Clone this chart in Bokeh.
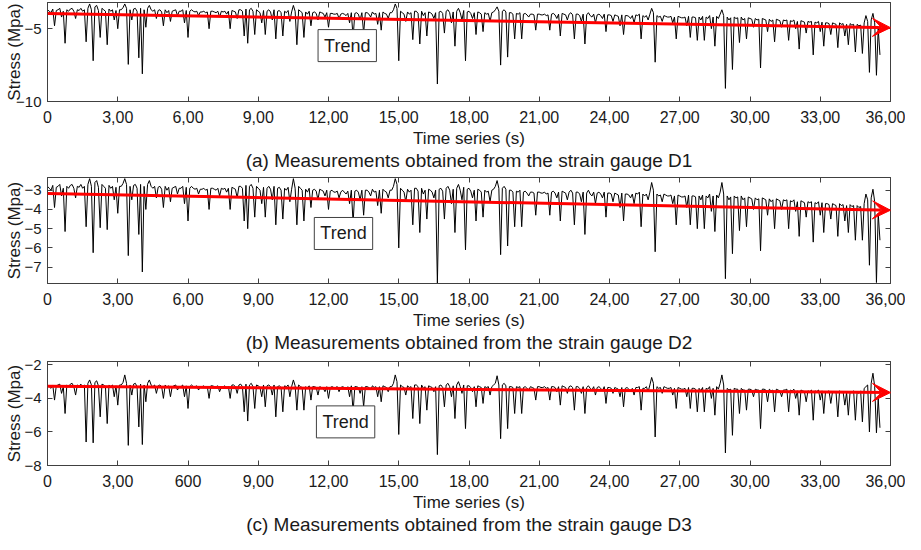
import numpy as np
from bokeh.plotting import figure
from bokeh.layouts import column
from bokeh.models import (FixedTicker, LinearAxis, Label, Arrow, VeeHead, Range1d)
from bokeh.embed import file_html
from bokeh.resources import INLINE

d1_stress = [
    -3.7, -3.8, -3.9, -3.65, -4.8, -3.75, -3.7, -3.6, -4.2, -3.8, -6.0, -3.7, -3.8, -3.65, -3.6, -3.8, -4.3, -3.7, -3.75, -3.6,
    -3.8, -3.7, -5.9, -3.6, -3.3, -3.7, -7.2, -3.5, -3.4, -3.75, -5.6, -3.6, -3.7, -3.8, -6.1, -3.65, -3.8, -3.7, -4.4, -3.75,
    -5.0, -3.7, -3.7, -3.55, -3.3, -3.6, -7.45, -3.7, -4.4, -3.65, -3.6, -3.8, -7.0, -3.6, -8.1, -3.7, -4.9, -3.6, -3.4, -3.7,
    -3.8, -3.7, -4.3, -3.75, -3.7, -3.85, -4.8, -3.7, -3.9, -3.75, -4.5, -3.8, -3.75, -3.7, -4.1, -3.8, -3.8, -3.7, -4.6, -3.75,
    -5.6, -3.8, -3.7, -3.8, -3.85, -3.8, -4.1, -3.85, -3.85, -3.8, -3.9, -3.85, -5.0, -3.8, -3.8, -3.85, -3.9, -3.8, -4.2, -3.8,
    -3.85, -3.8, -4.0, -3.8, -5.0, -3.75, -3.8, -3.85, -4.3, -3.7, -3.7, -3.8, -5.5, -3.65, -6.0, -3.7, -3.6, -3.8, -5.4, -3.7,
    -3.8, -3.9, -4.6, -3.75, -5.4, -3.8, -3.7, -3.85, -4.4, -3.7, -5.7, -3.8, -3.75, -3.9, -5.5, -3.8, -3.9, -3.75, -4.5, -3.85,
    -3.4, -3.8, -6.1, -3.7, -3.8, -3.9, -5.6, -3.85, -4.0, -3.8, -4.8, -3.9, -3.85, -3.95, -4.4, -3.85, -3.9, -3.95, -4.2, -3.9,
    -4.9, -3.95, -3.95, -4.0, -4.0, -3.95, -4.3, -4.0, -3.95, -4.0, -4.1, -3.95, -4.6, -3.9, -5.6, -3.95, -3.9, -4.0, -4.4, -3.9,
    -5.3, -3.9, -3.9, -4.0, -4.2, -3.85, -4.0, -3.95, -4.7, -3.9, -5.1, -3.85, -3.95, -4.0, -4.3, -3.9, -3.9, -3.7, -3.3, -3.6,
    -7.2, -3.8, -3.9, -4.0, -4.5, -3.85, -4.0, -3.9, -5.75, -3.8, -3.8, -3.95, -6.05, -3.8, -4.1, -3.9, -5.5, -3.85, -3.9, -4.0,
    -4.3, -3.9, -8.8, -3.85, -3.8, -3.95, -5.3, -3.8, -3.7, -3.9, -4.6, -3.85, -6.2, -3.8, -3.6, -3.9, -4.4, -3.75, -7.2, -3.85,
    -3.8, -3.95, -4.3, -3.9, -5.4, -3.85, -3.9, -4.0, -5.2, -3.9, -4.0, -3.95, -4.5, -3.9, -3.85, -3.7, -3.5, -3.8, -7.5, -3.8,
    -3.7, -3.85, -6.95, -3.9, -3.9, -4.0, -5.7, -3.95, -4.0, -3.9, -5.7, -4.0, -3.95, -4.05, -4.2, -4.0, -4.0, -4.05, -5.1, -4.0,
    -4.0, -4.05, -4.05, -4.0, -4.1, -4.05, -5.1, -4.0, -3.95, -4.05, -4.3, -4.0, -5.5, -3.95, -4.0, -4.05, -4.4, -4.0, -3.9, -4.05,
    -5.7, -4.0, -4.0, -4.1, -4.5, -4.0, -6.05, -4.05, -3.9, -4.1, -4.2, -4.0, -4.6, -4.05, -4.0, -4.1, -4.3, -4.0, -5.2, -4.05,
    -4.05, -4.1, -4.5, -4.05, -4.1, -4.15, -4.8, -4.05, -5.4, -4.1, -4.1, -4.15, -4.3, -4.1, -4.6, -4.05, -4.1, -4.0, -5.7, -4.1,
    -4.2, -4.1, -4.4, -4.0, -3.6, -3.9, -7.3, -4.1, -4.2, -4.15, -4.5, -4.1, -4.15, -4.2, -4.2, -4.15, -4.6, -4.2, -5.7, -4.15,
    -4.2, -4.25, -4.25, -4.2, -4.8, -4.15, -5.6, -4.2, -4.2, -4.25, -5.8, -4.2, -4.4, -4.15, -5.8, -4.2, -4.3, -4.1, -5.0, -4.2,
    -6.2, -4.15, -4.3, -4.0, -3.7, -4.1, -9.1, -4.2, -4.4, -4.25, -7.8, -4.2, -4.3, -4.25, -5.95, -4.2, -4.4, -4.3, -5.7, -4.25,
    -4.3, -4.35, -4.9, -4.3, -4.4, -4.35, -7.7, -4.3, -4.35, -4.4, -5.2, -4.35, -4.5, -4.4, -5.9, -4.35, -4.4, -4.45, -4.9, -4.4,
    -4.45, -4.4, -5.8, -4.45, -4.5, -4.4, -5.0, -4.5, -6.4, -4.45, -4.5, -4.55, -5.3, -4.5, -4.55, -4.5, -6.8, -4.55, -4.6, -4.5,
    -5.2, -4.55, -6.2, -4.6, -4.6, -4.65, -5.4, -4.6, -4.65, -4.7, -6.3, -4.6, -4.7, -4.65, -5.5, -4.7, -6.1, -4.65, -4.75, -4.7,
    -6.6, -4.7, -4.8, -4.75, -6.7, -4.6, -4.1, -4.5, -8.0, -4.4, -3.95, -4.6, -8.2, -5.0, -6.8,
]
d2_stress = [
    -2.8, -2.9, -3.0, -2.75, -3.9, -2.85, -2.8, -2.7, -3.3, -2.9, -5.15, -2.8, -2.9, -2.75, -2.7, -2.9, -3.4, -2.8, -2.85, -2.7,
    -2.9, -2.8, -4.9, -2.7, -2.4, -2.8, -6.25, -2.6, -2.5, -2.85, -4.95, -2.7, -2.8, -2.9, -5.05, -2.75, -2.9, -2.8, -3.5, -2.85,
    -4.2, -2.8, -2.8, -2.65, -2.4, -2.7, -6.4, -2.8, -3.5, -2.75, -2.7, -2.9, -5.3, -2.7, -7.25, -2.8, -4.0, -2.7, -2.5, -2.8,
    -2.9, -2.8, -3.4, -2.85, -2.8, -2.95, -3.9, -2.8, -3.0, -2.85, -3.6, -2.9, -2.85, -2.8, -3.2, -2.9, -2.9, -2.8, -3.7, -2.85,
    -4.6, -2.9, -2.8, -2.9, -2.95, -2.9, -3.2, -2.95, -2.95, -2.9, -3.0, -2.95, -4.0, -2.9, -2.9, -2.95, -3.0, -2.9, -3.3, -2.9,
    -2.95, -2.9, -3.1, -2.9, -4.0, -2.85, -2.9, -2.95, -3.4, -2.8, -2.8, -2.9, -4.6, -2.75, -5.0, -2.8, -2.7, -2.9, -4.4, -2.8,
    -2.9, -3.0, -3.7, -2.85, -4.4, -2.9, -2.8, -2.95, -3.5, -2.8, -4.8, -2.9, -2.85, -3.0, -4.5, -2.9, -3.0, -2.85, -3.6, -2.95,
    -2.4, -2.9, -4.8, -2.8, -2.9, -3.0, -4.6, -2.95, -3.1, -2.9, -3.9, -3.0, -2.95, -3.05, -3.5, -2.95, -3.0, -3.05, -3.3, -3.0,
    -4.0, -3.05, -3.0, -3.1, -3.1, -3.05, -3.4, -3.1, -3.0, -3.1, -3.2, -3.05, -3.7, -3.0, -4.7, -3.05, -3.0, -3.1, -3.5, -3.0,
    -4.3, -3.0, -3.0, -3.1, -3.3, -2.95, -3.1, -3.05, -3.8, -3.0, -4.2, -2.95, -3.05, -3.1, -3.4, -3.0, -3.0, -2.8, -2.4, -2.7,
    -6.0, -2.9, -3.0, -3.1, -3.6, -2.95, -3.1, -3.0, -4.8, -2.9, -2.9, -3.05, -5.2, -2.9, -3.2, -3.0, -4.5, -2.95, -3.0, -3.1,
    -3.4, -3.0, -7.85, -2.95, -2.9, -3.05, -4.5, -2.9, -2.8, -3.0, -3.7, -2.95, -5.2, -2.9, -2.7, -3.0, -3.5, -2.85, -6.1, -2.95,
    -2.9, -3.05, -3.4, -3.0, -4.6, -2.95, -3.0, -3.1, -4.4, -3.0, -3.1, -3.05, -3.6, -3.0, -2.95, -2.8, -2.5, -2.9, -6.35, -2.9,
    -2.8, -2.95, -5.9, -3.0, -3.0, -3.1, -4.9, -3.05, -3.1, -3.0, -4.9, -3.1, -3.05, -3.15, -3.3, -3.1, -3.1, -3.15, -4.3, -3.1,
    -3.1, -3.15, -3.15, -3.1, -3.2, -3.15, -4.3, -3.1, -3.05, -3.15, -3.4, -3.1, -4.6, -3.05, -3.1, -3.15, -3.5, -3.1, -3.0, -3.15,
    -4.8, -3.1, -3.1, -3.2, -3.6, -3.1, -5.3, -3.15, -3.0, -3.2, -3.3, -3.1, -3.7, -3.15, -3.1, -3.2, -3.4, -3.1, -4.4, -3.15,
    -3.15, -3.2, -3.6, -3.15, -3.2, -3.25, -3.9, -3.15, -4.6, -3.2, -3.2, -3.25, -3.4, -3.2, -3.7, -3.15, -3.2, -3.1, -4.9, -3.2,
    -3.3, -3.2, -3.5, -3.1, -2.6, -3.0, -6.2, -3.2, -3.3, -3.25, -3.6, -3.2, -3.25, -3.3, -3.3, -3.25, -3.7, -3.3, -4.8, -3.25,
    -3.3, -3.35, -3.35, -3.3, -3.9, -3.25, -4.8, -3.3, -3.3, -3.35, -5.0, -3.3, -3.5, -3.25, -5.0, -3.3, -3.4, -3.2, -4.1, -3.3,
    -5.15, -3.25, -3.4, -3.1, -2.6, -3.2, -7.6, -3.3, -3.5, -3.35, -6.3, -3.3, -3.4, -3.35, -5.1, -3.3, -3.5, -3.4, -4.9, -3.35,
    -3.4, -3.45, -4.0, -3.4, -3.5, -3.45, -6.15, -3.4, -3.45, -3.5, -4.3, -3.45, -3.6, -3.5, -5.0, -3.45, -3.5, -3.55, -4.0, -3.5,
    -3.55, -3.5, -5.0, -3.55, -3.6, -3.5, -4.1, -3.6, -5.4, -3.55, -3.6, -3.65, -4.4, -3.6, -3.65, -3.6, -5.7, -3.65, -3.7, -3.6,
    -4.3, -3.65, -5.2, -3.7, -3.7, -3.75, -4.5, -3.7, -3.75, -3.8, -5.4, -3.7, -3.8, -3.75, -4.6, -3.8, -5.2, -3.75, -3.85, -3.8,
    -5.6, -3.8, -3.9, -3.85, -5.6, -3.7, -3.2, -3.5, -6.9, -3.4, -2.95, -3.6, -7.8, -4.2, -5.6,
]
d3_stress = [
    -3.2, -3.3, -3.4, -3.2, -4.1, -3.25, -3.2, -3.15, -3.7, -3.3, -4.9, -3.2, -3.3, -3.15, -3.1, -3.3, -3.8, -3.2, -3.25, -3.15,
    -3.3, -3.2, -6.6, -3.1, -2.9, -3.2, -6.65, -3.05, -2.95, -3.25, -5.1, -3.15, -3.2, -3.3, -5.5, -3.2, -3.3, -3.2, -3.9, -3.25,
    -4.4, -3.2, -3.2, -3.05, -2.6, -3.1, -6.8, -3.2, -3.8, -3.15, -3.1, -3.3, -5.7, -3.15, -6.75, -3.2, -4.2, -3.1, -2.9, -3.2,
    -3.3, -3.2, -3.7, -3.25, -3.2, -3.3, -4.0, -3.2, -3.35, -3.25, -3.9, -3.3, -3.25, -3.2, -3.5, -3.3, -3.3, -3.2, -3.9, -3.25,
    -4.6, -3.3, -3.2, -3.3, -3.3, -3.25, -3.5, -3.3, -3.3, -3.25, -3.35, -3.3, -4.0, -3.25, -3.25, -3.3, -3.3, -3.25, -3.6, -3.3,
    -3.3, -3.25, -3.4, -3.3, -4.0, -3.2, -3.2, -3.3, -3.7, -3.2, -3.15, -3.3, -4.8, -3.15, -5.35, -3.2, -3.1, -3.3, -4.6, -3.2,
    -3.25, -3.35, -3.9, -3.2, -4.5, -3.25, -3.2, -3.3, -3.8, -3.2, -5.1, -3.3, -3.25, -3.35, -4.8, -3.25, -3.3, -3.2, -3.9, -3.3,
    -2.9, -3.25, -4.7, -3.2, -3.3, -3.35, -4.7, -3.3, -3.4, -3.25, -4.1, -3.3, -3.3, -3.35, -3.8, -3.3, -3.35, -3.4, -3.6, -3.3,
    -4.0, -3.35, -3.3, -3.35, -3.35, -3.3, -3.6, -3.35, -3.3, -3.35, -3.45, -3.3, -3.9, -3.25, -4.8, -3.3, -3.3, -3.35, -3.7, -3.3,
    -4.5, -3.3, -3.3, -3.35, -3.5, -3.25, -3.35, -3.3, -3.9, -3.3, -4.2, -3.25, -3.3, -3.35, -3.6, -3.3, -3.3, -3.1, -2.6, -3.0,
    -6.15, -3.2, -3.3, -3.35, -3.8, -3.25, -3.35, -3.3, -5.2, -3.2, -3.2, -3.3, -5.5, -3.2, -3.4, -3.3, -4.7, -3.25, -3.3, -3.35,
    -3.6, -3.3, -7.35, -3.25, -3.2, -3.35, -4.5, -3.2, -3.1, -3.3, -3.9, -3.25, -5.2, -3.2, -3.0, -3.3, -3.7, -3.2, -5.8, -3.25,
    -3.25, -3.35, -3.6, -3.3, -4.5, -3.25, -3.3, -3.35, -4.3, -3.3, -3.35, -3.3, -3.8, -3.3, -3.2, -3.1, -2.65, -3.2, -6.4, -3.2,
    -3.1, -3.25, -5.8, -3.3, -3.3, -3.35, -4.9, -3.3, -3.35, -3.3, -4.9, -3.35, -3.3, -3.4, -3.5, -3.3, -3.35, -3.4, -4.1, -3.3,
    -3.3, -3.35, -3.35, -3.3, -3.4, -3.35, -4.1, -3.3, -3.3, -3.35, -3.6, -3.3, -4.4, -3.25, -3.3, -3.35, -3.7, -3.3, -3.25, -3.35,
    -4.7, -3.3, -3.3, -3.4, -3.7, -3.3, -4.9, -3.35, -3.25, -3.4, -3.5, -3.3, -3.8, -3.35, -3.3, -3.4, -3.55, -3.3, -4.3, -3.35,
    -3.35, -3.4, -3.7, -3.35, -3.4, -3.45, -3.9, -3.35, -4.5, -3.4, -3.35, -3.45, -3.55, -3.4, -3.8, -3.35, -3.35, -3.3, -4.7, -3.4,
    -3.4, -3.3, -3.6, -3.2, -2.75, -3.1, -6.3, -3.3, -3.4, -3.35, -3.7, -3.3, -3.35, -3.4, -3.4, -3.35, -3.8, -3.4, -4.6, -3.35,
    -3.4, -3.45, -3.45, -3.4, -3.9, -3.35, -4.6, -3.4, -3.4, -3.45, -4.8, -3.4, -3.55, -3.35, -4.8, -3.4, -3.45, -3.3, -4.0, -3.4,
    -5.0, -3.3, -3.45, -3.1, -2.6, -3.2, -7.25, -3.4, -3.5, -3.45, -6.2, -3.4, -3.45, -3.45, -4.9, -3.4, -3.5, -3.5, -4.7, -3.45,
    -3.45, -3.5, -3.9, -3.45, -3.5, -3.5, -5.8, -3.45, -3.45, -3.5, -4.2, -3.45, -3.55, -3.5, -4.8, -3.45, -3.5, -3.55, -3.9, -3.5,
    -3.5, -3.45, -4.8, -3.5, -3.55, -3.45, -4.0, -3.55, -5.0, -3.5, -3.55, -3.6, -4.2, -3.55, -3.6, -3.5, -5.3, -3.55, -3.6, -3.5,
    -4.1, -3.55, -4.9, -3.6, -3.6, -3.55, -4.3, -3.6, -3.6, -3.65, -5.1, -3.55, -3.65, -3.6, -4.4, -3.65, -5.0, -3.6, -3.65, -3.55,
    -5.3, -3.6, -3.7, -3.55, -5.4, -3.4, -3.3, -3.2, -6.0, -3.1, -2.5, -3.3, -6.05, -4.0, -5.75,
]
sample_step_s = 0.075

# trend lines (value at t=0 and at t=36)
trend_start = [-3.95, -3.17, -3.27]
trend_end = [-4.93, -4.04, -3.65]

x_ticks = [0, 3, 6, 9, 12, 15, 18, 21, 24, 27, 30, 33, 36]
x_labels_ab = ["0", "3,00", "6,00", "9,00", "12,00", "15,00", "18,00",
               "21,00", "24,00", "27,00", "30,00", "33,00", "36,00"]
x_labels_c = ["0", "3,00", "600", "9,00", "12,00", "15,00", "18,00",
              "21,00", "24,00", "27,00", "30,00", "33,00", "36,00"]

y_ranges = [(-10.0, -3.2), (-7.85, -2.34), (-8.0, -1.8)]
y_ticks = [[-10, -5], [-7, -6, -5, -4, -3], [-8, -6, -4, -2]]

captions = [
    "(a) Measurements obtained from the strain gauge D1",
    "(b) Measurements obtained from the strain gauge D2",
    "(c) Measurements obtained from the strain gauge D3",
]
x_title = "Time series (s)"
y_title = "Stress (Mpa)"
trend_label_pos = [(12.8, -6.16), (12.64, -5.25), (12.73, -5.4)]

FONT = "Liberation Sans"
TXT = "#1a1a1a"
EDGE = "#404040"


def style_axis(ax, ticks, show_labels, size="16px", overrides=None):
    ax.ticker = FixedTicker(ticks=ticks)
    ax.major_tick_in = 5
    ax.major_tick_out = 0
    ax.minor_tick_in = 0
    ax.minor_tick_out = 0
    ax.major_tick_line_color = EDGE
    ax.axis_line_color = EDGE
    ax.major_label_text_font = FONT
    ax.major_label_text_color = TXT
    if show_labels:
        ax.major_label_text_font_size = size
        if overrides is not None:
            ax.major_label_overrides = overrides
    else:
        ax.major_label_text_font_size = "1px"
        ax.major_label_standoff = 0
        ax.major_label_overrides = {t: "" for t in ticks}


def make_panel(values, yr, yt, xlabels, caption, t0, t1, lab_pos, frame_h, top, ylab_standoff):
    times = np.arange(len(values)) * sample_step_s
    p = figure(frame_width=843, frame_height=frame_h, x_range=Range1d(0, 36),
               y_range=Range1d(*yr), output_backend="svg", toolbar_location=None,
               min_border_left=47, min_border_right=15, min_border_top=top,
               min_border_bottom=0)
    p.grid.visible = False
    p.outline_line_color = EDGE
    p.outline_line_width = 1
    p.background_fill_color = "white"
    p.border_fill_color = "white"

    p.line(times, values, line_color="black", line_width=1)

    xa = p.xaxis[0]
    style_axis(xa, x_ticks, True, "16px", dict(zip(x_ticks, xlabels)))
    xa.major_label_standoff = 9
    xa.axis_label = x_title
    xa.axis_label_standoff = 3
    xa.axis_label_text_font = FONT
    xa.axis_label_text_font_size = "17px"
    xa.axis_label_text_font_style = "normal"
    xa.axis_label_text_color = TXT

    # caption: an extra tick-less axis below the time axis
    cap = LinearAxis(ticker=FixedTicker(ticks=[]), axis_label=caption,
                     axis_line_color=None, major_tick_line_color=None,
                     minor_tick_line_color=None, major_label_standoff=0,
                     major_label_text_font_size="1px", axis_label_standoff=-1,
                     axis_label_text_font=FONT, axis_label_text_font_size="19px",
                     axis_label_text_font_style="normal", axis_label_text_color=TXT,
                     axis_label_text_line_height=0.9,
                     major_tick_in=0, major_tick_out=0, minor_tick_in=0, minor_tick_out=0)
    p.add_layout(cap, "below")

    ya = p.yaxis[0]
    style_axis(ya, yt, True, "15px")
    ya.major_label_standoff = 6
    ya.axis_label = y_title
    ya.axis_label_standoff = ylab_standoff
    ya.axis_label_text_font = FONT
    ya.axis_label_text_font_size = "17px"
    ya.axis_label_text_font_style = "normal"
    ya.axis_label_text_color = TXT

    top_ax = LinearAxis()
    style_axis(top_ax, x_ticks, False)
    p.add_layout(top_ax, "above")
    right_ax = LinearAxis()
    style_axis(right_ax, yt, False)
    p.add_layout(right_ax, "right")

    p.add_layout(Arrow(end=VeeHead(size=18, fill_color="red", line_color="red", line_width=1),
                       x_start=0, y_start=t0, x_end=36, y_end=t1,
                       line_color="red", line_width=3))

    p.add_layout(Label(x=lab_pos[0], y=lab_pos[1], text="Trend", text_align="center",
                       text_baseline="middle", text_font=FONT, text_font_size="18px",
                       text_color=TXT, border_line_color=EDGE, border_line_width=1,
                       background_fill_color="white", padding=6))
    return p


series = [d1_stress, d2_stress, d3_stress]
frame_heights = [99, 106, 104]
tops = [2, 4, 6]
ylab_standoffs = [-11, -3, -3]
figs = []
for k in range(3):
    figs.append(make_panel(series[k], y_ranges[k], y_ticks[k],
                           x_labels_c if k == 2 else x_labels_ab, captions[k],
                           trend_start[k], trend_end[k], trend_label_pos[k],
                           frame_heights[k], tops[k], ylab_standoffs[k]))

layout = column(*figs, spacing=0)
open("out.html", "w").write(file_html(layout, INLINE))
